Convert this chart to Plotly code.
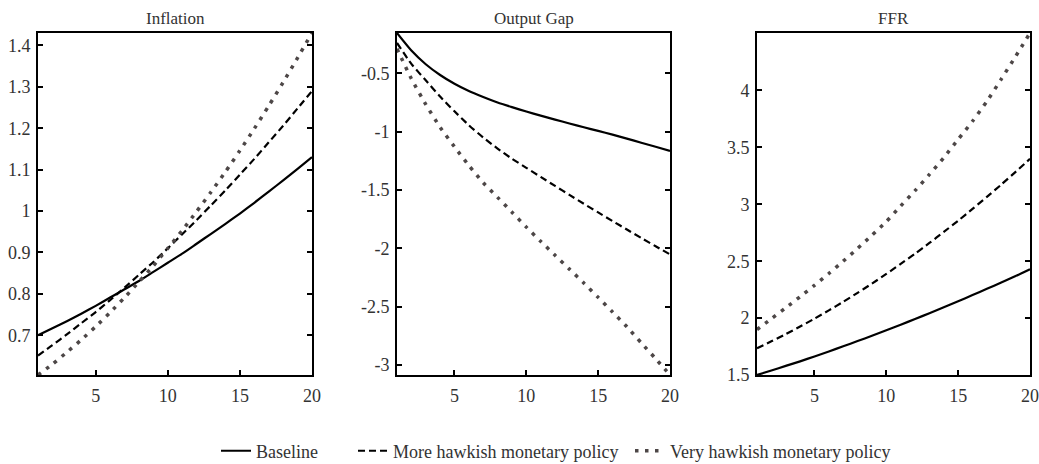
import plotly.graph_objects as go

# Horizon (quarters)
periods = list(range(1, 21))

# Inflation responses
infl_baseline = [0.700, 0.717, 0.734, 0.752, 0.771, 0.791, 0.811, 0.831, 0.853, 0.875,
                 0.897, 0.921, 0.945, 0.969, 0.994, 1.020, 1.047, 1.074, 1.102, 1.130]
infl_more = [0.651, 0.676, 0.702, 0.729, 0.756, 0.785, 0.815, 0.846, 0.877, 0.910,
             0.944, 0.978, 1.014, 1.050, 1.088, 1.126, 1.166, 1.206, 1.248, 1.290]
infl_very = [0.604, 0.630, 0.659, 0.689, 0.721, 0.755, 0.791, 0.829, 0.868, 0.910,
             0.953, 0.999, 1.046, 1.095, 1.146, 1.199, 1.254, 1.311, 1.370, 1.430]

# Output gap responses
gap_baseline = [-0.155, -0.305, -0.423, -0.515, -0.590, -0.652, -0.703, -0.750, -0.790, -0.828,
                -0.863, -0.897, -0.930, -0.962, -0.994, -1.026, -1.060, -1.095, -1.130, -1.165]
gap_more = [-0.240, -0.420, -0.560, -0.700, -0.826, -0.945, -1.050, -1.145, -1.232, -1.310,
            -1.388, -1.465, -1.542, -1.618, -1.692, -1.766, -1.839, -1.911, -1.982, -2.052]
gap_very = [-0.290, -0.547, -0.766, -0.962, -1.130, -1.290, -1.438, -1.563, -1.690, -1.818,
            -1.940, -2.060, -2.178, -2.297, -2.420, -2.545, -2.672, -2.810, -2.945, -3.085]

# Federal funds rate responses
ffr_baseline = [1.500, 1.540, 1.580, 1.620, 1.663, 1.707, 1.752, 1.798, 1.845, 1.893,
                1.942, 1.992, 2.043, 2.095, 2.148, 2.202, 2.257, 2.313, 2.370, 2.430]
ffr_more = [1.735, 1.796, 1.859, 1.926, 1.995, 2.068, 2.143, 2.222, 2.303, 2.388,
            2.476, 2.566, 2.660, 2.757, 2.856, 2.959, 3.065, 3.173, 3.285, 3.400]
ffr_very = [1.900, 1.994, 2.090, 2.188, 2.288, 2.392, 2.500, 2.612, 2.728, 2.848,
            2.985, 3.120, 3.262, 3.410, 3.570, 3.730, 3.905, 4.100, 4.300, 4.505]

panel_titles = ["Inflation", "Output Gap", "FFR"]
series_names = ["Baseline", "More hawkish monetary policy", "Very hawkish monetary policy"]

x_tickvals = [5, 10, 15, 20]
x_ticktext = ["5", "10", "15", "20"]
infl_tickvals = [0.7, 0.8, 0.9, 1.0, 1.1, 1.2, 1.3, 1.4]
infl_ticktext = ["0.7", "0.8", "0.9", "1", "1.1", "1.2", "1.3", "1.4"]
gap_tickvals = [-3, -2.5, -2, -1.5, -1, -0.5]
gap_ticktext = ["-3", "-2.5", "-2", "-1.5", "-1", "-0.5"]
ffr_tickvals = [1.5, 2, 2.5, 3, 3.5, 4]
ffr_ticktext = ["1.5", "2", "2.5", "3", "3.5", "4"]

FONT = "Liberation Serif, Times New Roman, serif"
TEXT = "#333333"
W, H = 1039, 464

styles = [
    dict(color="black", width=2.2, dash="solid"),
    dict(color="black", width=2.2, dash="7px,4px"),
    dict(color="#4d4747", width=3.5, dash="3.5px,6.5px"),
]
legend_ids = ["legend", "legend2", "legend3"]

panels = [
    (panel_titles[0], [infl_baseline, infl_more, infl_very], infl_tickvals, infl_ticktext),
    (panel_titles[1], [gap_baseline, gap_more, gap_very], gap_tickvals, gap_ticktext),
    (panel_titles[2], [ffr_baseline, ffr_more, ffr_very], ffr_tickvals, ffr_ticktext),
]

# pixel extents of the three plot areas
x_px = [(38, 312), (397, 670), (757, 1030)]
y_top_px, y_bot_px = 33, 375

fig = go.Figure()
layout = dict(
    width=W, height=H,
    margin=dict(l=0, r=0, t=0, b=0, autoexpand=False),
    paper_bgcolor="white", plot_bgcolor="white",
    font=dict(family=FONT, size=18, color=TEXT),
    annotations=[],
)

for i, (title, series, tv, tt) in enumerate(panels):
    sfx = "" if i == 0 else str(i + 1)
    xa, ya = "x" + sfx, "y" + sfx
    all_vals = [v for s in series for v in s]
    for j, (vals, name) in enumerate(zip(series, series_names)):
        fig.add_trace(go.Scatter(
            x=periods, y=vals, mode="lines", name=name,
            line=dict(shape="spline", smoothing=0.6, **styles[j]),
            xaxis=xa, yaxis=ya,
            showlegend=(i == 0), legend=legend_ids[j],
        ))
    x0, x1 = x_px[i]
    dom_x = [x0 / W, x1 / W]
    dom_y = [(H - y_bot_px) / H, (H - y_top_px) / H]
    layout["xaxis" + sfx] = dict(
        domain=dom_x, anchor=ya, range=[1, 20],
        tickvals=x_tickvals, ticktext=x_ticktext,
        showline=True, linecolor="black", linewidth=2, mirror=True,
        ticks="inside", ticklen=5, tickwidth=2, tickcolor="black",
        showgrid=False, zeroline=False, automargin=False,
        ticklabelstandoff=3,
    )
    layout["yaxis" + sfx] = dict(
        domain=dom_y, anchor=xa, range=[min(all_vals), max(all_vals)],
        tickvals=tv, ticktext=tt,
        showline=True, linecolor="black", linewidth=2, mirror="ticks",
        ticks="inside", ticklen=5, tickwidth=2, tickcolor="black",
        showgrid=False, zeroline=False, automargin=False,
        ticklabelstandoff=2,
    )
    layout["annotations"].append(dict(
        text=title, x=(dom_x[0] + dom_x[1]) / 2, y=(H - 18) / H,
        xref="paper", yref="paper", xanchor="center", yanchor="middle",
        showarrow=False, font=dict(family=FONT, size=17, color=TEXT),
    ))

legend_x_px = [216, 353, 630]
for lid, lx in zip(legend_ids, legend_x_px):
    layout[lid] = dict(
        orientation="h", x=lx / W, xanchor="left",
        y=-0.012, yanchor="bottom",
        bgcolor="rgba(0,0,0,0)", borderwidth=0,
        font=dict(family=FONT, size=18, color=TEXT),
    )

fig.update_layout(**layout)
fig.write_html("out.html")
